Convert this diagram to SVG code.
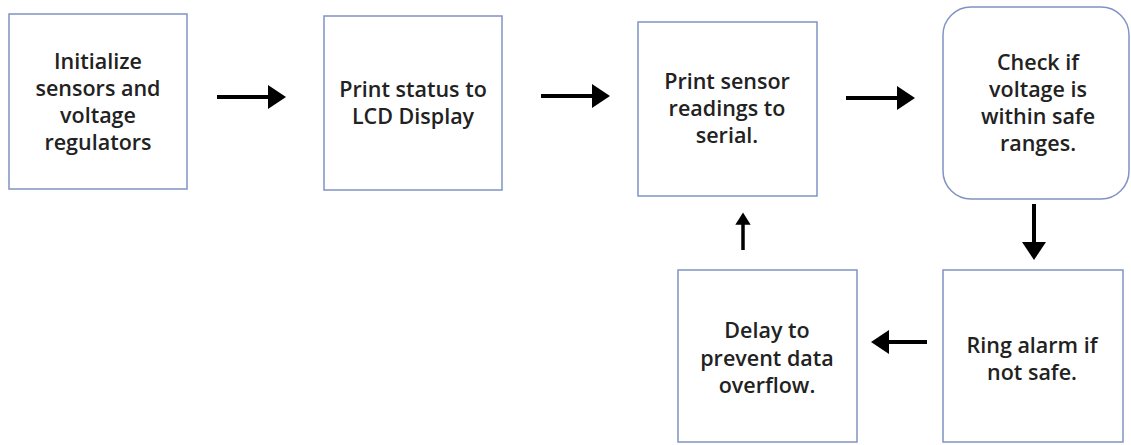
<svg xmlns="http://www.w3.org/2000/svg" width="1131" height="445" viewBox="0 0 1131 445">
<style>
.box{fill:#ffffff;stroke:#8093c4;stroke-width:1.5}
.t{font-family:"Open Sans","Liberation Sans",sans-serif;font-size:21.5px;font-weight:600;fill:#222222;text-anchor:middle}
.c{stroke:#000;stroke-width:4;fill:none}
</style>
<defs>
<marker id="ah" markerWidth="5" markerHeight="6" refX="0.5" refY="3" orient="auto" markerUnits="strokeWidth">
<path d="M0,0 L4.5,3 L0,6 Z" fill="#000"/>
</marker>
<marker id="ahs" markerWidth="5" markerHeight="6" refX="0.5" refY="3" orient="auto" markerUnits="strokeWidth">
<path d="M0,0.8 L3.5,3 L0,5.2 Z" fill="#000"/>
</marker>
</defs>
<rect width="1131" height="445" fill="#ffffff"/>
<g id="n1">
<rect class="box" x="9" y="14" width="178" height="175"/>
<text class="t" x="98" y="69">Initialize</text>
<text class="t" x="98" y="96">sensors and</text>
<text class="t" x="98" y="123">voltage</text>
<text class="t" x="98" y="150">regulators</text>
</g>
<g id="n2">
<rect class="box" x="324" y="16" width="178" height="174"/>
<text class="t" x="413" y="97">Print status to</text>
<text class="t" x="413" y="124">LCD Display</text>
</g>
<g id="n3">
<rect class="box" x="638" y="22" width="179" height="174"/>
<text class="t" x="727" y="89">Print sensor</text>
<text class="t" x="727" y="116">readings to</text>
<text class="t" x="727" y="143">serial.</text>
</g>
<g id="n4">
<rect class="box" x="943" y="7" width="186" height="192" rx="28" ry="28"/>
<text class="t" x="1038" y="70">Check if</text>
<text class="t" x="1038" y="97">voltage is</text>
<text class="t" x="1038" y="124">within safe</text>
<text class="t" x="1038" y="151">ranges.</text>
</g>
<g id="n5">
<rect class="box" x="943" y="270" width="180" height="172"/>
<text class="t" x="1032" y="353">Ring alarm if</text>
<text class="t" x="1032" y="380">not safe.</text>
</g>
<g id="n6">
<rect class="box" x="678" y="270" width="179" height="172"/>
<text class="t" x="767" y="338">Delay to</text>
<text class="t" x="767" y="366">prevent data</text>
<text class="t" x="767" y="393">overflow.</text>
</g>
<g id="connectors">
<line class="c" x1="217" y1="97" x2="270" y2="97" marker-end="url(#ah)"/>
<line class="c" x1="541" y1="96" x2="594" y2="96" marker-end="url(#ah)"/>
<line class="c" x1="846" y1="98" x2="899" y2="98" marker-end="url(#ah)"/>
<line class="c" x1="1034" y1="204" x2="1034" y2="244" marker-end="url(#ah)"/>
<line class="c" x1="927" y1="342" x2="887" y2="342" marker-end="url(#ah)"/>
<line class="c" x1="743" y1="250" x2="743" y2="223" style="stroke-width:3.5" marker-end="url(#ahs)"/>
</g>
</svg>
